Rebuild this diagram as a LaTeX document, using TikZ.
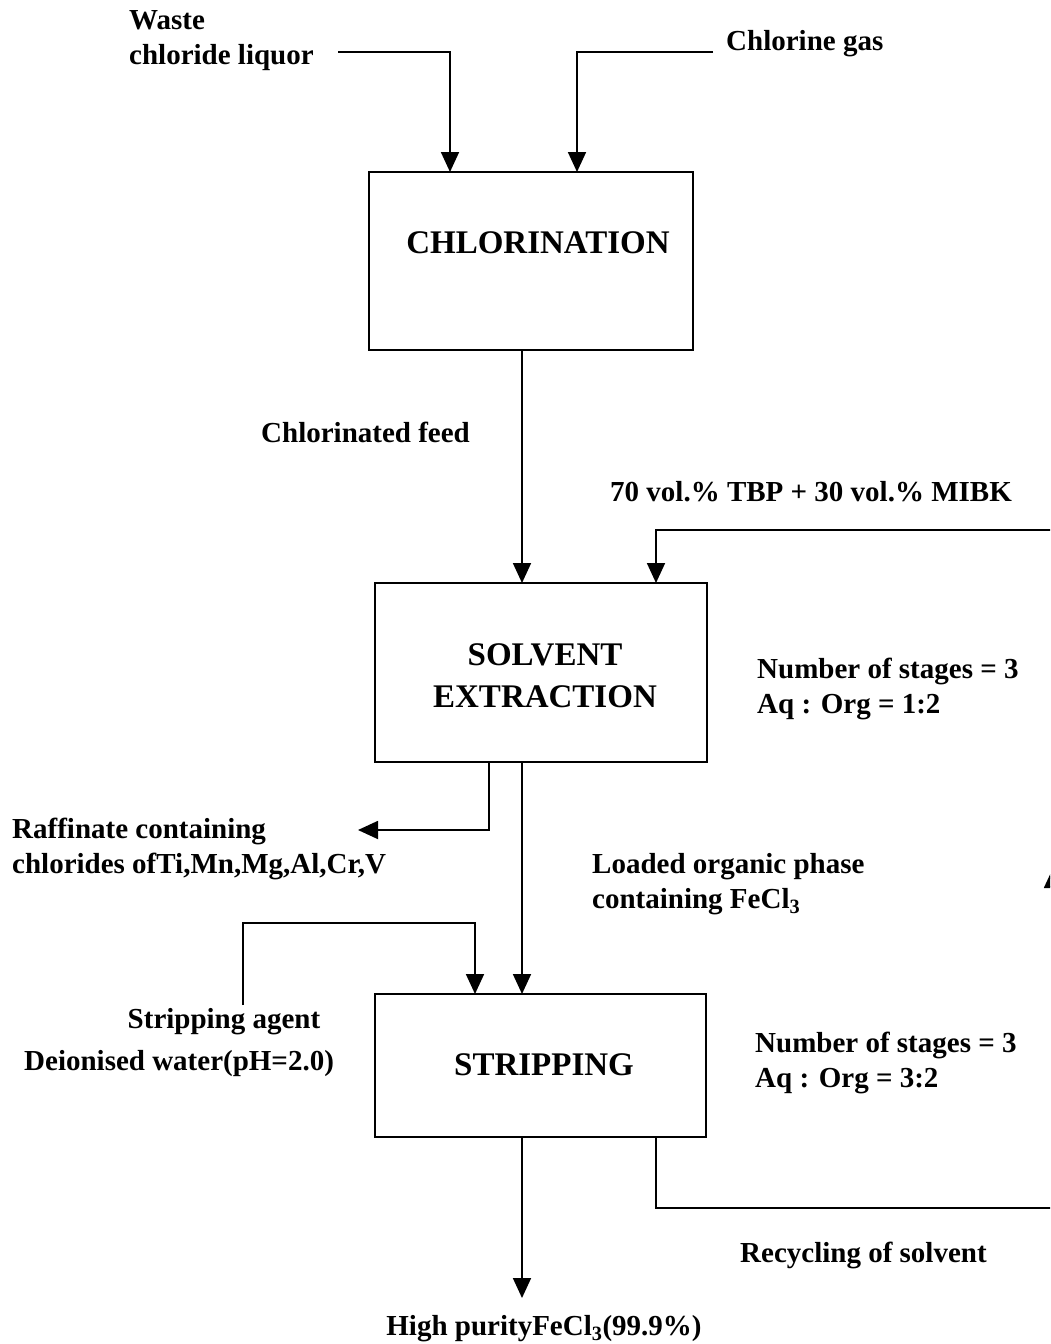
\documentclass[tikz,border=0pt]{standalone}
\usepackage{fontspec}
\setmainfont{Liberation Serif}
\usetikzlibrary{arrows.meta}
\begin{document}
\begin{tikzpicture}[x=1pt,y=-1pt,
  lbl/.style={font=\fontsize{29}{35}\selectfont\bfseries,inner sep=0pt,align=left},
  ttl/.style={font=\fontsize{33}{42}\selectfont\bfseries,inner sep=0pt,align=center},
  boxline/.style={line width=1.8pt},
  flow/.style={line width=1.8pt},
  arr/.style={flow,-{Triangle[length=20pt,width=18pt]}}]
\useasboundingbox (0,0) rectangle (1050,1344);
\clip (0,0) rectangle (1050,1344);
% boxes
\draw[boxline] (369,172) rectangle (693,350);
\node[ttl] (chl) at (538,243) {CHLORINATION};
\coordinate (chlTop1) at (450,172);
\coordinate (chlTop2) at (577,172);
\coordinate (chlBot) at (522,350);
\draw[boxline] (375,583) rectangle (707,762);
\node[ttl] (se) at (545,676) {SOLVENT\\EXTRACTION};
\coordinate (seTop1) at (522,583);
\coordinate (seTop2) at (656,583);
\coordinate (seBot1) at (489,762);
\coordinate (seBot2) at (522,762);
\draw[boxline] (375,994) rectangle (706,1137);
\node[ttl] (st) at (544,1065) {STRIPPING};
\coordinate (stTop1) at (475,994);
\coordinate (stTop2) at (522,994);
\coordinate (stBot1) at (522,1137);
\coordinate (stBot2) at (656,1137);
% labels
\node[lbl,anchor=north west] (waste) at (129,10) {Waste\\chloride liquor};
\node[lbl,anchor=west] (cl2) at (726,44) {Chlorine gas};
\node[lbl,anchor=west] (cf) at (261,432) {Chlorinated feed};
\node[lbl,anchor=west] (solv) at (610,492) {70 vol.\% TBP + 30 vol.\% MIBK};
\node[lbl,anchor=north west] (se1) at (757,658) {Number of stages = 3\\Aq : Org = 1:2};
\node[lbl,anchor=north west] (raf) at (12,818) {Raffinate containing\\chlorides ofTi,Mn,Mg,Al,Cr,V};
\node[lbl,anchor=north west] (lo) at (592,853) {Loaded organic phase\\containing FeCl\textsubscript{3}};
\node[lbl,anchor=center] (sa) at (224,1022) {Stripping agent};
\node[lbl,anchor=west] (dw) at (24,1064) {Deionised water(pH=2.0)};
\node[lbl,anchor=north west] (st1) at (755,1032) {Number of stages = 3\\Aq : Org = 3:2};
\node[lbl,anchor=west] (rec) at (740,1255) {Recycling of solvent};
\node[lbl,anchor=center] (hp) at (544,1329) {High purityFeCl\textsubscript{3}(99.9\%)};
% connectors
\coordinate (w0) at (338,52);
\draw[arr] (w0) -| (chlTop1);
\coordinate (c0) at (713,52);
\draw[arr] (c0) -| (chlTop2);
\draw[arr] (chlBot) -- (seTop1);
\coordinate (r1) at (1053,530);
\coordinate (r2) at (1053,1208);
\coordinate (rmid) at (1053,868);
\draw[arr] (r1) -| (seTop2);
\coordinate (rafEnd) at (358,830);
\draw[arr] (seBot1) |- (rafEnd);
\draw[arr] (seBot2) -- (stTop2);
\coordinate (s0) at (243,1005);
\coordinate (s1) at (475,923);
\draw[arr] (s0) |- (s1) -- (stTop1);
\coordinate (hpEnd) at (522,1298);
\draw[arr] (stBot1) -- (hpEnd);
\draw[flow] (stBot2) |- (r2);
\draw[arr] (r2) -- (rmid);
\draw[flow] (rmid) -- (r1);
\end{tikzpicture}
\end{document}
